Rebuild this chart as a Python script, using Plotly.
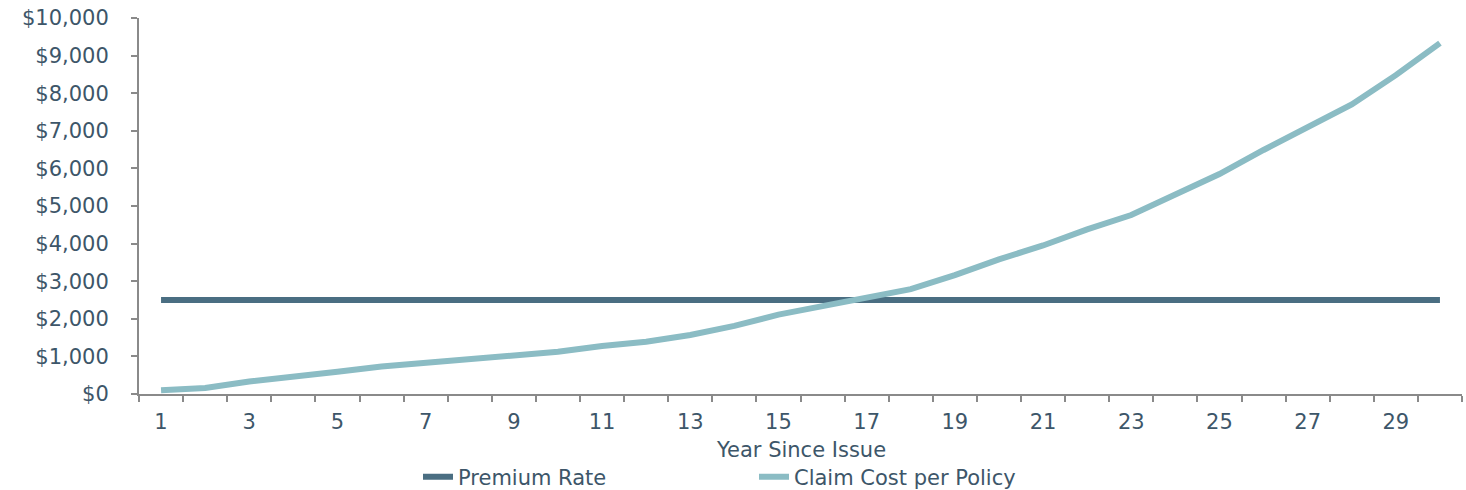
import plotly.graph_objects as go

years = list(range(1, 31))
premium_rate = [2500] * 30
claim_cost = [100, 160, 330, 480, 590, 730, 830, 920, 1010, 1125,
              1275, 1390, 1570, 1810, 2110, 2340, 2580, 2790, 3160, 3580,
              3950, 4380, 4760, 5290, 5850, 6490, 7110, 7700, 8480, 9330]
x_tick_vals = list(range(1, 30, 2))
x_tick_text = [str(v) for v in x_tick_vals]
y_tick_vals = list(range(0, 10001, 1000))
y_tick_text = ["$" + format(v, ",") for v in y_tick_vals]
x_title = "Year Since Issue"

TEXT = "#3d5669"
AXIS = "#8a8a8a"
FONT = "DejaVu Sans, Liberation Sans, Arial, sans-serif"
FS = 21

fig = go.Figure()
fig.add_trace(go.Scatter(x=years, y=premium_rate, mode="lines", name="Premium Rate",
                         line=dict(color="#4a6e82", width=6)))
fig.add_trace(go.Scatter(x=years, y=claim_cost, mode="lines", name="Claim Cost per Policy",
                         line=dict(color="#8bbcc4", width=6)))

fig.add_annotation(text=x_title, xref="paper", x=0.5, yref="paper", y=-0.149,
                   yanchor="middle", xanchor="center", showarrow=False,
                   font=dict(size=FS, color=TEXT))

fig.update_layout(
    width=1466, height=490,
    margin=dict(l=139, r=4, t=18, b=96, autoexpand=False),
    paper_bgcolor="white", plot_bgcolor="white",
    font=dict(family=FONT, size=FS, color=TEXT),
    showlegend=True,
    legend=dict(orientation="h", x=418 / 1466, xref="container", xanchor="left",
                y=1 - 477 / 490, yref="container", yanchor="middle",
                entrywidth=291, entrywidthmode="pixels",
                font=dict(size=FS, color=TEXT), itemwidth=30),
    xaxis=dict(range=[0.5, 30.5], tickmode="array", tickvals=x_tick_vals, ticktext=x_tick_text,
               ticks="outside", ticklen=0, ticklabelstandoff=8, showgrid=False, zeroline=False,
               showline=True, linecolor=AXIS, linewidth=2, automargin=False,
               minor=dict(tick0=0.5, dtick=1, ticks="outside", ticklen=6, tickcolor=AXIS, tickwidth=2, showgrid=False),
               tickfont=dict(size=FS, color=TEXT)),
    yaxis=dict(range=[0, 10000], tickmode="array", tickvals=y_tick_vals, ticktext=y_tick_text,
               ticks="outside", ticklen=6, tickcolor=AXIS, tickwidth=2, ticklabelstandoff=18,
               showgrid=False, zeroline=False, showline=True, linecolor=AXIS, linewidth=2,
               automargin=False, tickfont=dict(size=FS, color=TEXT)),
)

fig.write_html("out.html")
